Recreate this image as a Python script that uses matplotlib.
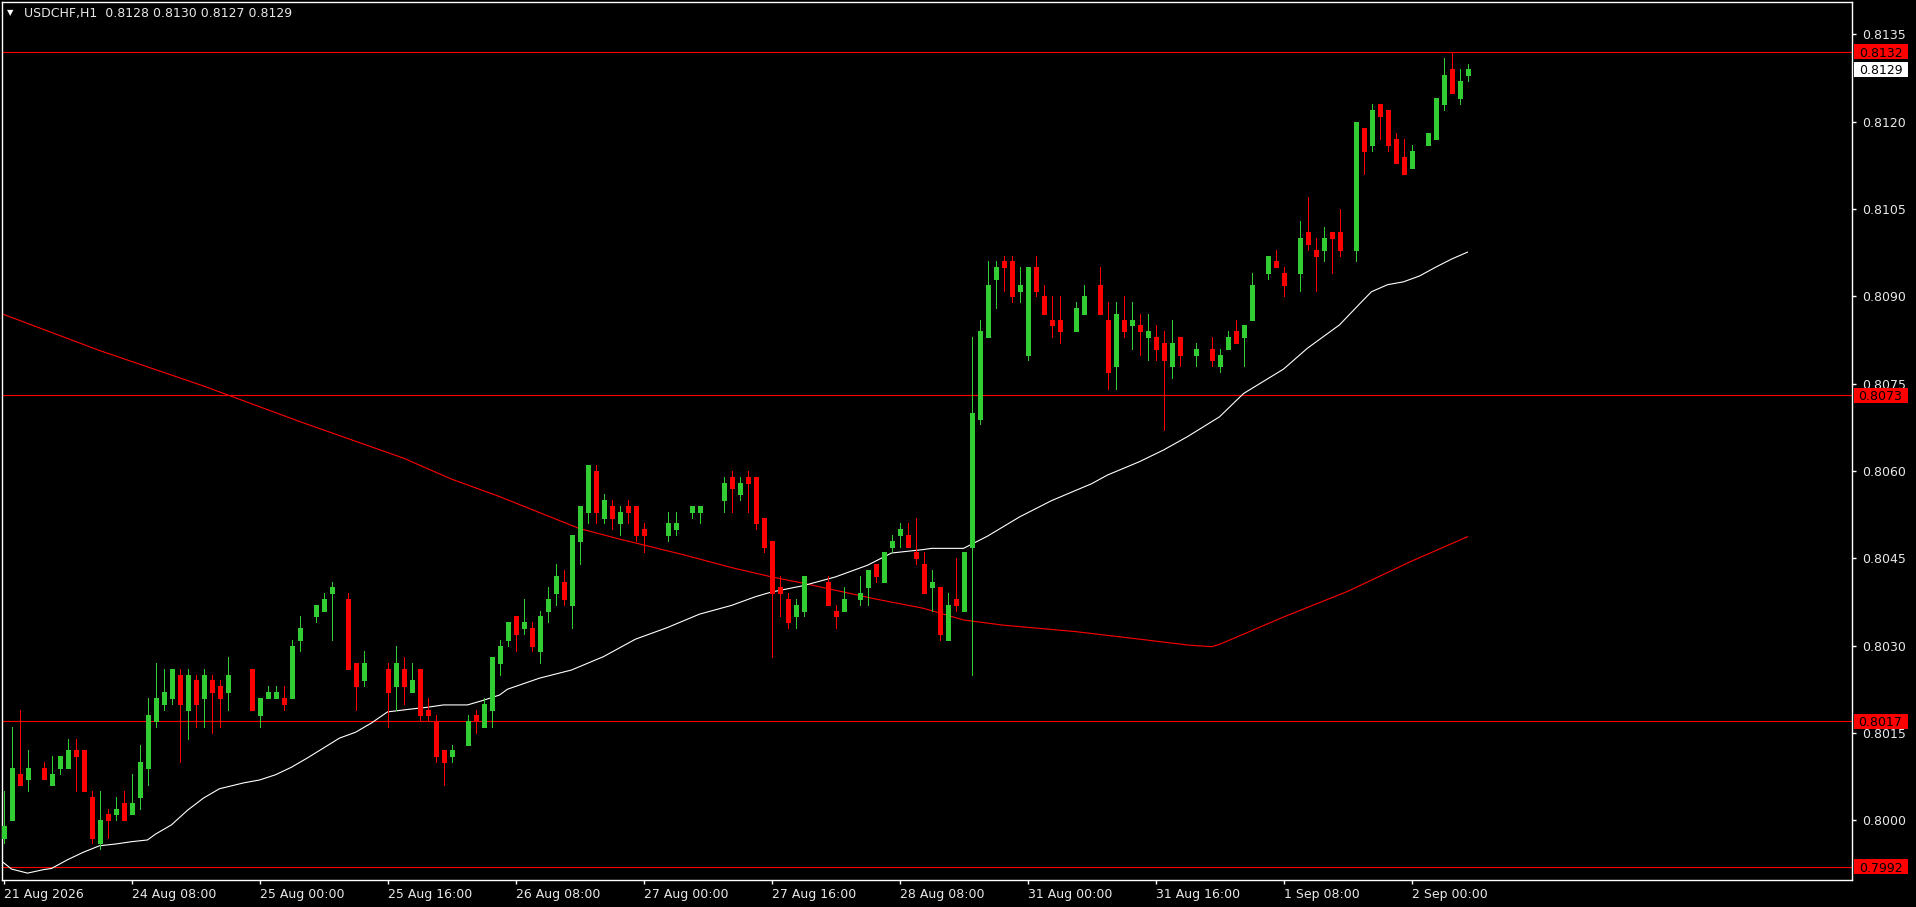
import numpy as np
import matplotlib.pyplot as plt
from matplotlib.patches import Rectangle
from matplotlib.transforms import blended_transform_factory

# ---- data (USDCHF H1) ----
symbol = "USDCHF,H1"
header_ohlc = [0.8128, 0.8130, 0.8127, 0.8129]

# None = doji bar drawn invisibly by the terminal
opens = [0.7997, 0.8000, 0.8008, 0.8007, None, 0.8009, 0.8006, 0.8009, 0.8009, 0.8012,
         0.8012, 0.8004, 0.7996, 0.8001, 0.8001, 0.8003, 0.8001, 0.8004, 0.8009, 0.8017,
         0.8020, 0.8021, 0.8025, 0.8019, 0.8024, 0.8021, 0.8024, 0.8023, 0.8022, None,
         None, 0.8026, 0.8018, 0.8021, 0.8021, 0.8021, 0.8021, 0.8031, None, 0.8035,
         0.8036, 0.8039, None, 0.8038, 0.8027, 0.8024, None, None, 0.8026, 0.8023,
         0.8026, 0.8022, 0.8026, 0.8019, 0.8017, 0.8012, 0.8011, None, 0.8013, 0.8018,
         0.8016, 0.8019, 0.8027, 0.8031, 0.8035, 0.8033, 0.8033, 0.8029, 0.8036, 0.8039,
         0.8041, 0.8037, 0.8048, 0.8053, 0.8060, 0.8052, 0.8054, 0.8051, 0.8054, 0.8054,
         0.8050, None, None, 0.8049, 0.8050, None, 0.8053, 0.8053, None, None,
         0.8055, 0.8059, 0.8056, 0.8059, 0.8059, 0.8052, 0.8048, 0.8040, 0.8038, 0.8035,
         0.8036, None, None, 0.8041, 0.8036, 0.8036, None, 0.8038, 0.8040, 0.8044,
         0.8041, 0.8047, 0.8049, 0.8049, 0.8046, 0.8044, 0.8040, 0.8040, 0.8031, 0.8038,
         0.8036, 0.8047, 0.8069, 0.8083, 0.8093, 0.8096, 0.8096, 0.8091, 0.8080, 0.8095,
         0.8090, 0.8086, 0.8086, None, 0.8084, 0.8087, None, 0.8092, 0.8086, 0.8078,
         0.8086, 0.8085, 0.8085, 0.8083, 0.8083, 0.8082, 0.8078, 0.8083, None, 0.8080,
         None, 0.8081, 0.8078, 0.8081, 0.8084, 0.8083, 0.8086, None, 0.8094, 0.8096,
         0.8094, None, 0.8094, 0.8101, 0.8098, 0.8098, 0.8101, 0.8101, None, 0.8098,
         0.8119, 0.8116, 0.8123, 0.8122, 0.8117, 0.8114, 0.8112, None, 0.8116, 0.8117,
         0.8123, 0.8129, 0.8124, 0.8128]
highs = [0.8005, 0.8016, 0.8019, 0.8012, None, 0.8010, 0.8011, 0.8011, 0.8014, 0.8014,
         0.8012, 0.8005, 0.8005, 0.8002, 0.8004, 0.8005, 0.8008, 0.8013, 0.8021, 0.8027,
         0.8026, 0.8026, 0.8026, 0.8026, 0.8025, 0.8026, 0.8025, 0.8024, 0.8028, None,
         None, 0.8026, 0.8021, 0.8023, 0.8023, 0.8023, 0.8031, 0.8035, None, 0.8037,
         0.8039, 0.8041, None, 0.8039, 0.8027, 0.8029, None, None, 0.8027, 0.8030,
         0.8028, 0.8027, 0.8026, 0.8021, 0.8018, 0.8012, 0.8013, None, 0.8018, 0.8019,
         0.8021, 0.8028, 0.8031, 0.8034, 0.8035, 0.8038, 0.8034, 0.8036, 0.8040, 0.8044,
         0.8043, 0.8049, 0.8054, 0.8061, 0.8061, 0.8056, 0.8055, 0.8054, 0.8055, 0.8054,
         0.8051, None, None, 0.8053, 0.8053, None, 0.8054, 0.8054, None, None,
         0.8059, 0.8060, 0.8059, 0.8060, 0.8059, 0.8052, 0.8048, 0.8042, 0.8039, 0.8038,
         0.8042, None, None, 0.8042, 0.8037, 0.8040, None, 0.8042, 0.8043, 0.8044,
         0.8046, 0.8049, 0.8051, 0.8051, 0.8052, 0.8046, 0.8043, 0.8040, 0.8039, 0.8045,
         0.8046, 0.8083, 0.8086, 0.8096, 0.8096, 0.8097, 0.8097, 0.8095, 0.8095, 0.8097,
         0.8092, 0.8090, 0.8090, None, 0.8089, 0.8092, None, 0.8095, 0.8089, 0.8089,
         0.8090, 0.8089, 0.8087, 0.8087, 0.8085, 0.8084, 0.8086, 0.8083, None, 0.8082,
         None, 0.8083, 0.8081, 0.8084, 0.8086, 0.8085, 0.8094, None, 0.8097, 0.8098,
         0.8095, None, 0.8103, 0.8107, 0.8100, 0.8102, 0.8101, 0.8105, None, 0.8120,
         0.8119, 0.8123, 0.8123, 0.8122, 0.8118, 0.8117, 0.8116, None, 0.8118, 0.8124,
         0.8131, 0.8132, 0.8129, 0.8130]
lows = [0.7996, 0.8000, 0.8006, 0.8005, None, 0.8007, 0.8006, 0.8008, 0.8009, 0.8005,
        0.8005, 0.7996, 0.7995, 0.7997, 0.8000, 0.8000, 0.8001, 0.8002, 0.8006, 0.8016,
        0.8019, 0.8020, 0.8010, 0.8014, 0.8016, 0.8016, 0.8015, 0.8016, 0.8019, None,
        None, 0.8019, 0.8016, 0.8021, 0.8021, 0.8019, 0.8021, 0.8029, None, 0.8034,
        0.8036, 0.8031, None, 0.8026, 0.8019, 0.8023, None, None, 0.8016, 0.8019,
        0.8020, 0.8022, 0.8017, 0.8017, 0.8010, 0.8006, 0.8010, None, 0.8013, 0.8015,
        0.8016, 0.8016, 0.8025, 0.8030, 0.8029, 0.8032, 0.8029, 0.8027, 0.8034, 0.8037,
        0.8037, 0.8033, 0.8044, 0.8051, 0.8051, 0.8051, 0.8050, 0.8049, 0.8051, 0.8048,
        0.8046, None, None, 0.8048, 0.8049, None, 0.8052, 0.8051, None, None,
        0.8053, 0.8053, 0.8055, 0.8053, 0.8050, 0.8046, 0.8028, 0.8035, 0.8033, 0.8033,
        0.8035, None, None, 0.8037, 0.8033, 0.8036, None, 0.8037, 0.8037, 0.8041,
        0.8041, 0.8046, 0.8047, 0.8047, 0.8044, 0.8039, 0.8036, 0.8031, 0.8031, 0.8036,
        0.8036, 0.8025, 0.8068, 0.8083, 0.8088, 0.8091, 0.8089, 0.8089, 0.8079, 0.8090,
        0.8087, 0.8083, 0.8082, None, 0.8084, 0.8087, None, 0.8087, 0.8074, 0.8074,
        0.8083, 0.8081, 0.8080, 0.8079, 0.8079, 0.8067, 0.8076, 0.8078, None, 0.8078,
        None, 0.8078, 0.8077, 0.8081, 0.8082, 0.8078, 0.8086, None, 0.8093, 0.8095,
        0.8090, None, 0.8091, 0.8098, 0.8091, 0.8096, 0.8094, 0.8097, None, 0.8096,
        0.8111, 0.8115, 0.8117, 0.8115, 0.8113, 0.8111, 0.8112, None, 0.8116, 0.8117,
        0.8122, 0.8125, 0.8123, 0.8127]
closes = [0.7999, 0.8009, 0.8006, 0.8009, None, 0.8007, 0.8008, 0.8011, 0.8012, 0.8011,
          0.8005, 0.7997, 0.8000, 0.8000, 0.8002, 0.8000, 0.8003, 0.8010, 0.8018, 0.8021,
          0.8022, 0.8026, 0.8020, 0.8025, 0.8020, 0.8025, 0.8022, 0.8021, 0.8025, None,
          None, 0.8019, 0.8021, 0.8022, 0.8022, 0.8020, 0.8030, 0.8033, None, 0.8037,
          0.8038, 0.8040, None, 0.8026, 0.8023, 0.8027, None, None, 0.8022, 0.8027,
          0.8023, 0.8024, 0.8018, 0.8018, 0.8011, 0.8010, 0.8012, None, 0.8017, 0.8017,
          0.8020, 0.8028, 0.8030, 0.8034, 0.8032, 0.8034, 0.8030, 0.8035, 0.8038, 0.8042,
          0.8038, 0.8049, 0.8054, 0.8061, 0.8053, 0.8055, 0.8052, 0.8053, 0.8053, 0.8049,
          0.8049, None, None, 0.8051, 0.8051, None, 0.8054, 0.8054, None, None,
          0.8058, 0.8057, 0.8058, 0.8058, 0.8051, 0.8047, 0.8039, 0.8039, 0.8034, 0.8037,
          0.8042, None, None, 0.8037, 0.8035, 0.8038, None, 0.8039, 0.8043, 0.8042,
          0.8046, 0.8048, 0.8050, 0.8047, 0.8045, 0.8039, 0.8041, 0.8032, 0.8037, 0.8037,
          0.8046, 0.8070, 0.8084, 0.8092, 0.8095, 0.8095, 0.8090, 0.8092, 0.8095, 0.8091,
          0.8087, 0.8085, 0.8084, None, 0.8088, 0.8090, None, 0.8087, 0.8077, 0.8087,
          0.8084, 0.8086, 0.8084, 0.8084, 0.8081, 0.8079, 0.8082, 0.8080, None, 0.8081,
          None, 0.8079, 0.8080, 0.8083, 0.8082, 0.8085, 0.8092, None, 0.8097, 0.8095,
          0.8092, None, 0.8100, 0.8099, 0.8097, 0.8100, 0.8100, 0.8098, None, 0.8120,
          0.8115, 0.8122, 0.8121, 0.8116, 0.8113, 0.8111, 0.8115, None, 0.8118, 0.8124,
          0.8128, 0.8125, 0.8127, 0.8129]

# white moving average (bar index, price)
ma_fast_bars = [0, 1, 3, 5, 6, 8, 10, 12, 14, 16, 18, 19, 21, 23, 25, 27, 30, 32, 34, 36,
                38, 40, 42, 44, 46, 48, 51, 53, 55, 58, 60, 62, 63, 67, 71, 75, 79, 83, 87, 91,
                94, 96, 100, 104, 108, 111, 115, 116, 120, 123, 127, 131, 136, 138, 142, 145, 148, 152, 155, 160,
                163, 167, 170, 171, 173, 175, 177, 179, 181, 183]
ma_fast_vals = [0.79927, 0.79916, 0.79909, 0.79915, 0.79917, 0.79932, 0.79945, 0.79956, 0.79959, 0.79963,
                0.79966, 0.79976, 0.79992, 0.80017, 0.80038, 0.80054, 0.80064, 0.80069, 0.80078, 0.80091,
                0.80107, 0.80124, 0.80141, 0.80151, 0.80167, 0.80186, 0.80191, 0.80194, 0.80198, 0.80198,
                0.80206, 0.80215, 0.80225, 0.80244, 0.80258, 0.80281, 0.80311, 0.80331, 0.80354, 0.80369,
                0.80384, 0.80392, 0.80403, 0.80418, 0.80438, 0.80459, 0.80465, 0.80467, 0.80467, 0.80488,
                0.80521, 0.80549, 0.80578, 0.80593, 0.80616, 0.80636, 0.80659, 0.80693, 0.80733, 0.80775,
                0.80811, 0.80851, 0.80894, 0.80908, 0.80920, 0.80925, 0.80935, 0.80950, 0.80964, 0.80976]

# red (slow) moving average
ma_slow_bars = [0, 12, 25, 37, 50, 56, 62, 72, 77, 85, 91, 96, 100, 104, 109, 115, 120,
                125, 134, 142, 148, 151, 152, 160, 168, 176, 183]
ma_slow_vals = [0.80869, 0.80807, 0.80746, 0.80685, 0.80622, 0.80586, 0.80556, 0.80501,
                0.80483, 0.80456, 0.80434, 0.80418, 0.80407, 0.80395, 0.80380, 0.80364, 0.80344,
                0.80335, 0.80324, 0.80311, 0.80301, 0.80298, 0.80302, 0.80349, 0.80393, 0.80445, 0.80487]

levels = [0.8132, 0.8073, 0.8017, 0.7992]
last_price = 0.8129
price_ticks = [0.8000, 0.8015, 0.8030, 0.8045, 0.8060, 0.8075, 0.8090, 0.8105, 0.8120, 0.8135]
time_labels = ["21 Aug 2026", "24 Aug 08:00", "25 Aug 00:00", "25 Aug 16:00", "26 Aug 08:00",
               "27 Aug 00:00", "27 Aug 16:00", "28 Aug 08:00", "31 Aug 00:00", "31 Aug 16:00",
               "1 Sep 08:00", "2 Sep 00:00"]

# ---- layout (pixels of the terminal window) ----
W, H = 1916, 907
px_left, px_right, px_top, px_bottom = 2, 1852, 2, 880
bar_step = 8.0        # pixels per bar
first_bar_px = 3.5
px_per_price = 58200.0
ref_price, ref_px = 0.8073, 395.3
PT = 72 / 100         # one pixel in points

up_col = '#32cd32'
dn_col = '#ff0000'
txt_col = '#e8e8e8'

fig = plt.figure(figsize=(W / 100, H / 100), dpi=100, facecolor='black')
ax = fig.add_axes([px_left / W, 1 - px_bottom / H, (px_right - px_left) / W,
                   (px_bottom - px_top) / H], facecolor='black')

ax.set_xlim((px_left - first_bar_px) / bar_step, (px_right - first_bar_px) / bar_step)
ax.set_ylim(ref_price - (px_bottom - ref_px) / px_per_price,
            ref_price + (ref_px - px_top) / px_per_price)

o = np.array(opens, dtype=float)
h = np.array(highs, dtype=float)
l = np.array(lows, dtype=float)
c = np.array(closes, dtype=float)
idx = np.arange(len(o))
ok = ~np.isnan(o)
up = c >= o

# moving averages
ax.plot(ma_slow_bars, ma_slow_vals, color='#ff0000', lw=0.8, zorder=2)
ax.plot(ma_fast_bars, ma_fast_vals, color='white', lw=0.8, zorder=2)

# support / resistance levels
for lv in levels:
    ax.axhline(lv, color='#ff0000', lw=0.8, zorder=1)

# candles: 1px wick, 5px body
cols = np.where(up, up_col, dn_col)
ax.vlines(idx[ok], l[ok], h[ok], colors=cols[ok], lw=1 * PT, antialiased=False, zorder=3)
bodies = ax.vlines(idx[ok], np.minimum(o, c)[ok], np.maximum(o, c)[ok], colors=cols[ok],
                   lw=5 * PT, antialiased=False, zorder=4)
bodies.set_capstyle('butt')

# axes styling
for s in ax.spines.values():
    s.set_color('white')
    s.set_linewidth(1)
ax.yaxis.tick_right()
ax.set_yticks(price_ticks, [f"{p:.4f}" for p in price_ticks])
tick_bars = [16 * k for k in range(len(time_labels))]
ax.set_xticks(tick_bars, time_labels)
for lab in ax.get_xticklabels():
    lab.set_horizontalalignment('left')
ax.tick_params(axis='both', colors='white', labelcolor=txt_col, labelsize=9,
               length=3, width=1)
ax.tick_params(axis='y', pad=4)
ax.tick_params(axis='x', pad=3)

# price boxes on the right scale
tr = blended_transform_factory(ax.transAxes, ax.transData)
box_w = 54 / (px_right - px_left)
box_x = 1 + 1.5 / (px_right - px_left)
box_h = 15 / px_per_price
for lv, fc in [(lv, '#ff0000') for lv in levels] + [(last_price, 'white')]:
    ax.add_patch(Rectangle((box_x, lv - box_h / 2), box_w, box_h, transform=tr,
                           facecolor=fc, edgecolor='none', clip_on=False, zorder=10))
    ax.text(box_x + box_w / 2, lv, f"{lv:.4f}", transform=tr, ha='center',
            va='center_baseline', color='black', fontsize=9, zorder=11, clip_on=False)

# header text
fig.text(7 / W, 1 - 13 / H, "\u25bc", color='white', fontsize=6, va='center', ha='left')
fig.text(24 / W, 1 - 13 / H,
         f"{symbol}  " + " ".join(f"{v:.4f}" for v in header_ohlc),
         color=txt_col, fontsize=9, va='center', ha='left')

fig.savefig("out.png", dpi=100, facecolor='black')
